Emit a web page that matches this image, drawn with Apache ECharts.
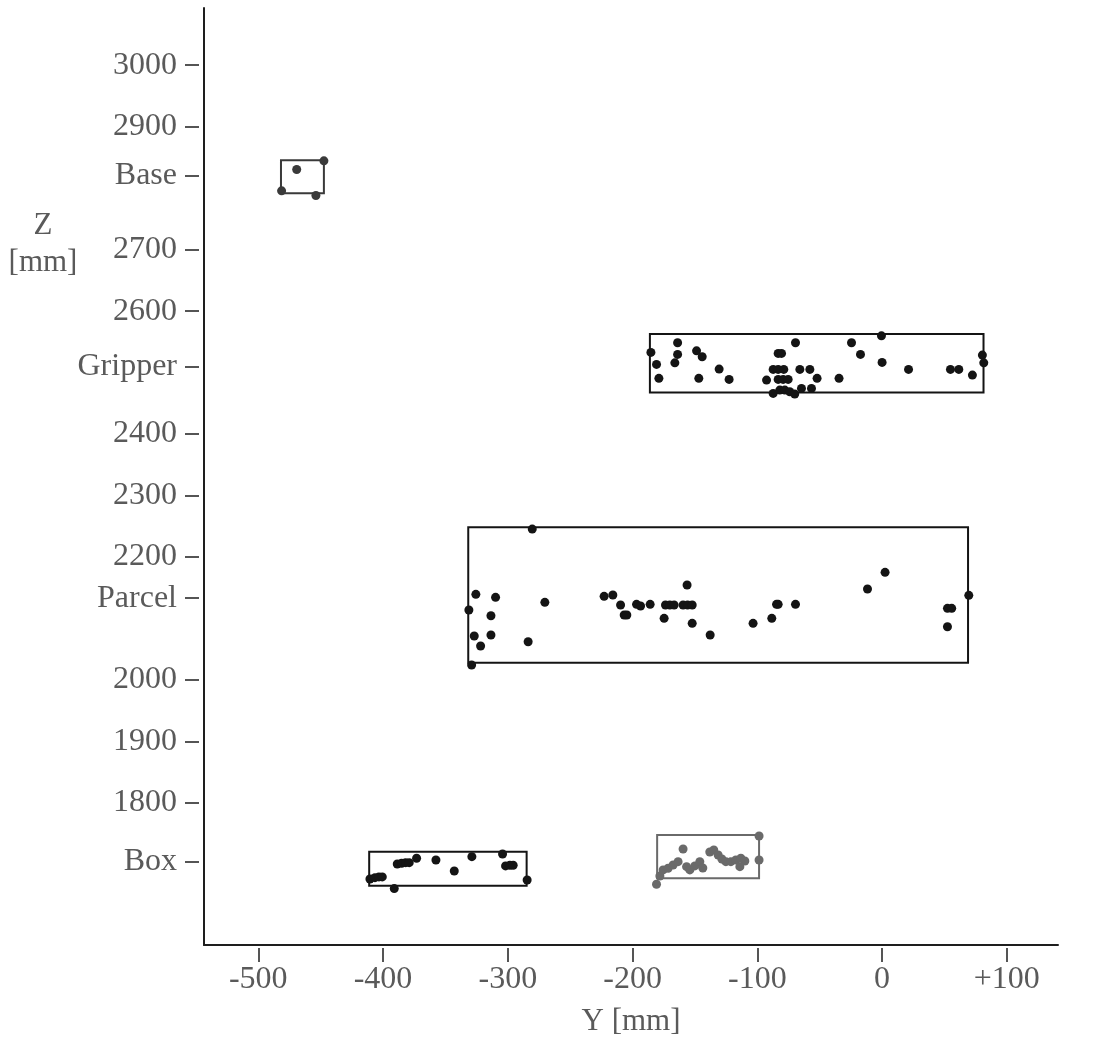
<!DOCTYPE html>
<html>
<head>
<meta charset="utf-8">
<script src="https://cdn.jsdelivr.net/npm/echarts@6/dist/echarts.min.js"></script>
<style>
  html, body { margin: 0; padding: 0; background: #ffffff; }
  #chart { width: 1112px; height: 1038px; }
</style>
</head>
<body>
<div id="chart"></div>
<script>
// Horizontal axis: Y [mm]
const hTickValues = [-500, -400, -300, -200, -100, 0, 100];
const hTickLabels = ['-500', '-400', '-300', '-200', '-100', '0', '+100'];
// Vertical axis: Z [mm]
const vTickValues = [3000, 2900, 2820, 2700, 2600, 2510, 2400, 2300, 2200, 2133, 2000, 1900, 1800, 1704];
const vTickLabels = ['3000', '2900', 'Base', '2700', '2600', 'Gripper', '2400', '2300', '2200', 'Parcel', '2000', '1900', '1800', 'Box'];

// Bounding rectangles: [Ymin, Ymax, Zmin, Zmax]
const baseRect = [-481.8, -447.4, 2791.9, 2845.5];
const gripperRect = [-186.1, 81.3, 2467.8, 2562.6];
const parcelRect = [-331.7, 68.9, 2028.1, 2248.3];
const boxRectA = [-411.1, -284.9, 1665.5, 1720.8];
const boxRectB = [-180.3, -98.6, 1677.6, 1748.0];

// Measured points: [Y, Z]
const basePoints = [
  [-469.2, 2830.4], [-447.4, 2844.4], [-481.3, 2795.6], [-453.8, 2788.1]
];
const gripperPoints = [
  [-185.3, 2532.8], [-163.9, 2548.5], [-180.8, 2513.3], [-163.9, 2529.6], [-166.1, 2515.9],
  [-178.9, 2490.6], [-148.7, 2535.4], [-144.2, 2525.7], [-146.9, 2490.6], [-130.6, 2505.7],
  [-122.6, 2488.9], [-92.6, 2487.8], [-69.4, 2548.5], [-83.3, 2531.2], [-80.6, 2531.2],
  [-87.3, 2505.2], [-83.3, 2505.2], [-78.8, 2505.2], [-65.9, 2505.2], [-57.9, 2505.2],
  [-83.3, 2488.9], [-79.3, 2488.9], [-75.3, 2488.9], [-52.1, 2490.6], [-87.3, 2466.2],
  [-82.0, 2471.5], [-78.0, 2471.5], [-74.0, 2468.8], [-70.0, 2465.0], [-64.6, 2474.3],
  [-56.6, 2474.3], [-34.5, 2490.6], [-24.5, 2548.5], [-17.3, 2529.6], [-0.5, 2559.8],
  [0.0, 2516.6], [21.2, 2505.2], [54.8, 2505.2], [61.5, 2505.2], [72.4, 2495.9],
  [80.4, 2528.5], [81.5, 2515.9]
];
const parcelPoints = [
  [-280.4, 2245.5], [-325.6, 2139.3], [-309.8, 2134.5], [-331.2, 2113.8], [-270.3, 2126.3],
  [-313.5, 2104.6], [-326.9, 2071.5], [-313.5, 2073.2], [-321.8, 2055.3], [-283.7, 2062.3],
  [-329.0, 2024.4], [-222.8, 2136.1], [-215.8, 2138.2], [-209.6, 2122.0], [-206.7, 2105.7],
  [-204.6, 2105.7], [-196.8, 2123.1], [-193.6, 2120.3], [-185.9, 2123.1], [-173.6, 2122.0],
  [-170.1, 2122.0], [-166.7, 2122.0], [-174.7, 2100.3], [-159.5, 2122.0], [-155.9, 2122.0],
  [-152.2, 2122.0], [-156.3, 2154.5], [-152.2, 2092.2], [-137.8, 2073.2], [-103.4, 2092.2],
  [-88.4, 2100.3], [-84.6, 2123.1], [-83.3, 2123.1], [-69.4, 2123.1], [-11.7, 2148.0],
  [2.4, 2175.1], [52.4, 2116.6], [55.8, 2116.6], [52.4, 2086.7], [69.5, 2137.7]
];
const boxPointsA = [
  [-410.5, 1676.4], [-406.5, 1678.5], [-403.3, 1679.7], [-400.6, 1679.7], [-391.0, 1660.7],
  [-388.6, 1700.8], [-385.1, 1702.0], [-381.9, 1702.9], [-379.0, 1702.9], [-373.1, 1710.1],
  [-357.6, 1707.3], [-342.9, 1689.4], [-328.8, 1712.7], [-304.2, 1717.1], [-301.8, 1697.6],
  [-298.3, 1698.7], [-295.7, 1698.7], [-284.5, 1674.8]
];
const boxPointsB = [
  [-180.8, 1667.8], [-178.1, 1681.3], [-175.5, 1691.1], [-171.5, 1693.8], [-167.5, 1699.2],
  [-163.5, 1704.6], [-159.5, 1725.2], [-156.7, 1696.4], [-154.1, 1691.1], [-150.1, 1697.6],
  [-146.1, 1704.6], [-143.7, 1694.3], [-138.1, 1720.3], [-134.9, 1723.6], [-131.4, 1715.4],
  [-128.4, 1708.9], [-125.2, 1704.6], [-121.2, 1704.6], [-117.2, 1707.3], [-113.2, 1710.1],
  [-110.0, 1705.7], [-114.0, 1696.4], [-98.6, 1746.3], [-98.6, 1707.3]
];

const FONT = '"Liberation Serif", "Times New Roman", "DejaVu Serif", serif';
const LABEL_COLOR = '#5a5a5a';
const AXIS_COLOR = '#1e1e1e';
const X_MIN = -543.5, X_MAX = 141;
const Z_MIN = 1569, Z_MAX = 3093;

function lookup(values, labels) {
  return function (v) {
    let best = 0, bd = Infinity;
    for (let i = 0; i < values.length; i++) {
      const d = Math.abs(values[i] - v);
      if (d < bd) { bd = d; best = i; }
    }
    return labels[best];
  };
}

function rectArea(r) {
  return [[{ coord: [r[0], r[2]] }, { coord: [r[1], r[3]] }]];
}

function scatter(name, data, rect, color) {
  return {
    name: name,
    type: 'scatter',
    xAxisIndex: 0,
    yAxisIndex: 0,
    data: data,
    symbol: 'circle',
    symbolSize: 9,
    itemStyle: { color: color, opacity: 1 },
    silent: true,
    z: 3,
    markArea: {
      silent: true,
      itemStyle: { color: 'rgba(0,0,0,0)', borderColor: color, borderWidth: 2 },
      label: { show: false },
      data: rectArea(rect)
    }
  };
}

const chart = echarts.init(document.getElementById('chart'), null, { renderer: 'canvas' });
chart.setOption({
  backgroundColor: '#ffffff',
  animation: false,
  grid: { left: 204, right: 54, top: 8, bottom: 93, containLabel: false, outerBoundsMode: 'none' },
  xAxis: [
    {
      type: 'value', min: X_MIN, max: X_MAX, position: 'bottom',
      axisLine: { show: true, onZero: false, lineStyle: { color: AXIS_COLOR, width: 2 } },
      axisTick: { show: false }, axisLabel: { show: false }, splitLine: { show: false }
    },
    {
      type: 'value', min: X_MIN, max: X_MAX, position: 'bottom', offset: 3,
      axisLine: { show: false, onZero: false },
      axisTick: { show: true, length: 14, customValues: hTickValues, lineStyle: { color: '#555', width: 2 } },
      axisLabel: {
        show: true, customValues: hTickValues, formatter: lookup(hTickValues, hTickLabels),
        margin: 16, fontFamily: FONT, fontSize: 32, color: LABEL_COLOR
      },
      splitLine: { show: false },
      name: 'Y [mm]', nameLocation: 'middle', nameGap: 58,
      nameTextStyle: { fontFamily: FONT, fontSize: 31, color: LABEL_COLOR }
    }
  ],
  yAxis: [
    {
      type: 'value', min: Z_MIN, max: Z_MAX, position: 'left',
      axisLine: { show: true, onZero: false, lineStyle: { color: AXIS_COLOR, width: 2 } },
      axisTick: { show: false }, axisLabel: { show: false }, splitLine: { show: false }
    },
    {
      type: 'value', min: Z_MIN, max: Z_MAX, position: 'left', offset: 5,
      axisLine: { show: false, onZero: false },
      axisTick: { show: true, length: 14, customValues: vTickValues, lineStyle: { color: '#555', width: 2 } },
      axisLabel: {
        show: true, customValues: vTickValues, formatter: lookup(vTickValues, vTickLabels),
        margin: 22, fontFamily: FONT, fontSize: 32, color: LABEL_COLOR
      },
      splitLine: { show: false }
    }
  ],
  graphic: [
    {
      type: 'text', x: 43, y: 207, silent: true,
      style: {
        text: 'Z\n[mm]', textAlign: 'center', textVerticalAlign: 'top',
        fontFamily: FONT, fontSize: 31, lineHeight: 37, fill: LABEL_COLOR
      }
    }
  ],
  series: [
    scatter('Base', basePoints, baseRect, '#3a3a3a'),
    scatter('Gripper', gripperPoints, gripperRect, '#141414'),
    scatter('Parcel', parcelPoints, parcelRect, '#141414'),
    scatter('Box A', boxPointsA, boxRectA, '#141414'),
    scatter('Box B', boxPointsB, boxRectB, '#6a6a6a')
  ]
});
</script>
</body>
</html>
